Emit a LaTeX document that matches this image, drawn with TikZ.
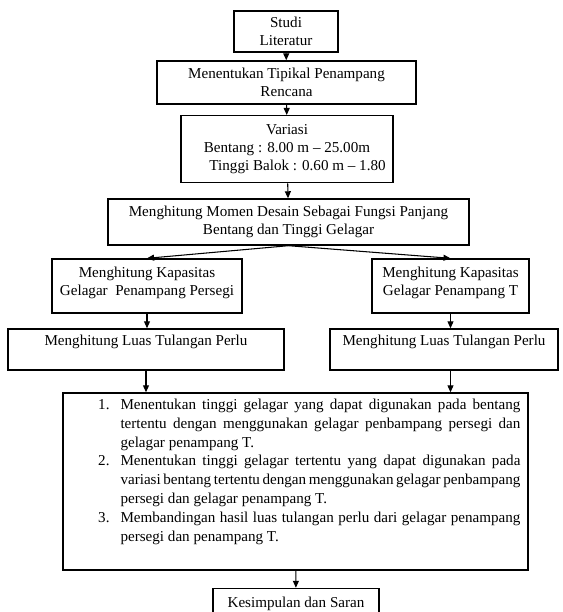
\documentclass[tikz,border=0pt]{standalone}
\usepackage{fontspec}
\setmainfont{Liberation Serif}
\usepackage{enumitem}
\usetikzlibrary{arrows.meta}

\tikzset{
  garis/.style={draw, line width=0.8pt, inner sep=2pt,
    font=\fontsize{8.6}{10.4}\selectfont},
  kotak/.style={garis, align=center},
  panah/.style={-{Triangle[length=4pt,width=3.4pt]}, line width=0.6pt},
}

\begin{document}
\begin{tikzpicture}[x=0.02cm, y=-0.02cm]
      \useasboundingbox (0,0) rectangle (562,612);
      \draw
        (286,31.5) node[kotak, minimum width=2.08cm, minimum height=0.82cm] (studi)
          {Studi\\Literatur}
        (286.5,82.5) node[kotak, minimum width=5.18cm, minimum height=0.86cm] (tipikal)
          {Menentukan Tipikal Penampang\\Rencana}
        (287,149.2) node[kotak, minimum width=4.24cm, minimum height=1.34cm] (variasi)
          {Variasi\\Bentang : 8.00 m – 25.00m\\\hspace*{1.4em}Tinggi Balok : 0.60 m – 1.80}
        (288.5,222) node[kotak, minimum width=7.22cm, minimum height=0.92cm] (momen)
          {Menghitung Momen Desain Sebagai Fungsi Panjang\\Bentang dan Tinggi Gelagar}
        (147,286) node[kotak, minimum width=3.8cm, minimum height=1.08cm, text depth=0.2cm] (kapP)
          {Menghitung Kapasitas\\Gelagar~ Penampang Persegi}
        (450.5,286) node[kotak, minimum width=3.14cm, minimum height=1.08cm, text depth=0.2cm] (kapT)
          {Menghitung Kapasitas\\Gelagar Penampang T}
        (146,349.5) node[kotak, minimum width=5.52cm, minimum height=0.82cm] (luasP)
          {Menghitung Luas Tulangan Perlu\\~}
        (444,349.5) node[kotak, minimum width=4.56cm, minimum height=0.82cm] (luasT)
          {Menghitung Luas Tulangan Perlu\\~}
        (295.5,481.5) node[garis, inner sep=0pt, minimum width=9.3cm, minimum height=3.54cm] (daftar)
          {\begin{minipage}[c][3.54cm][t]{9.3cm}
           \fontsize{8.6}{10.7}\selectfont
           \vspace*{0.12cm}
           \begin{enumerate}[leftmargin=1.0cm, rightmargin=0.3cm, labelsep=0.22cm,
             topsep=0pt, partopsep=0pt, itemsep=0pt, parsep=0pt]
           \item Menentukan tinggi gelagar yang dapat digunakan pada bentang\linebreak
             tertentu dengan menggunakan gelagar penbampang persegi dan\linebreak
             gelagar penampang T.
           \item Menentukan tinggi gelagar tertentu yang dapat digunakan pada\linebreak
             variasi bentang tertentu dengan menggunakan gelagar penbampang\linebreak
             persegi dan gelagar penampang T.
           \item Membandingan hasil luas tulangan perlu dari gelagar penampang\linebreak
             persegi dan penampang T.
           \end{enumerate}
           \end{minipage}}
        (296,611.5) node[kotak, minimum width=3.32cm, minimum height=0.92cm] (simpul)
          {Kesimpulan dan Saran\\~};
      \begin{scope}[panah]
        \draw (studi) to (tipikal);
        \draw (tipikal) to (variasi);
        \draw (variasi) to (momen);
        \draw (momen.south) to (kapP.north);
        \draw (momen.south) to (kapT.north);
        \draw (kapP.south) to (kapP.south |- luasP.north);
        \draw (kapT.south) to (kapT.south |- luasT.north);
        \draw (luasP.south) to (luasP.south |- daftar.north);
        \draw (luasT.south -| kapT.south) to (kapT.south |- daftar.north);
        \draw (daftar) to (simpul);
      \end{scope}
    \end{tikzpicture}
\end{document}
